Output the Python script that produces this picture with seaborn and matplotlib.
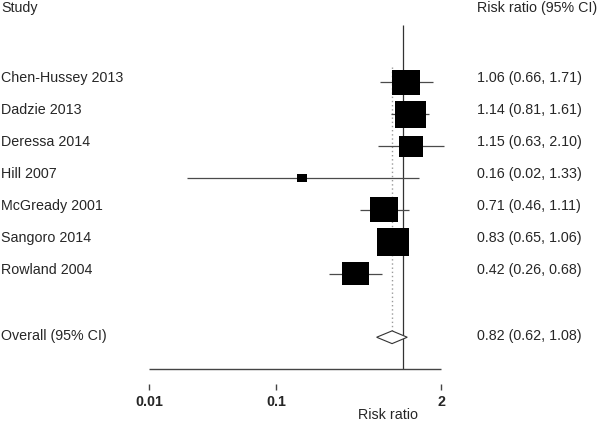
import numpy as np
import pandas as pd
import matplotlib
matplotlib.use('Agg')
import matplotlib.pyplot as plt
from matplotlib.path import Path
from matplotlib.patches import Polygon
import matplotlib.transforms as mtransforms
import seaborn as sns

### DATA ###
studies = ['Chen-Hussey 2013', 'Dadzie 2013', 'Deressa 2014', 'Hill 2007',
           'McGready 2001', 'Sangoro 2014', 'Rowland 2004']
rr = [1.06, 1.14, 1.15, 0.16, 0.71, 0.83, 0.42]
lo = [0.66, 0.81, 0.63, 0.02, 0.46, 0.65, 0.26]
hi = [1.71, 1.61, 2.10, 1.33, 1.11, 1.06, 0.68]
weights = [16.1, 18.9, 11.6, 1.9, 16.1, 20.9, 14.6]   # % weight (box area)

overall = (0.82, 0.62, 1.08)
tick_vals = [0.01, 0.1, 2]
tick_labels = ['0.01', '0.1', '2']

df = pd.DataFrame({'study': studies, 'rr': rr, 'lo': lo, 'hi': hi,
                   'weight': weights, 'row': np.arange(len(studies))})
overall_row = len(studies) + 1

sns.set_style('white')
plt.rcParams['font.family'] = ['Liberation Sans', 'DejaVu Sans']

fig = plt.figure(figsize=(6, 4.21), dpi=100)
ax = fig.add_axes([0, 0, 1, 1])
ax.set_xscale('log')
ax.set_xlim(10 ** -3.173, 10 ** 1.551)
ax.set_ylim(10.63, -2.59)
ax.axis('off')

ci_col = '#4a4a4a'
fs = 10.3

# confidence intervals
ax.hlines(df['row'], df['lo'], df['hi'], color=ci_col, lw=0.9, zorder=2)

# null line and pooled-estimate dotted line
ax.vlines(1, -1.81, 9.0, color='#333333', lw=0.9, zorder=1)
ax.vlines(overall[0], -0.5, overall_row, color='#9a9a9a', lw=1.0,
          linestyle=(0, (1, 2)), zorder=1)

# weighted boxes (slightly wider than tall, as in the source)
box = Path([(-1, -0.88), (1, -0.88), (1, 0.88), (-1, 0.88), (-1, -0.88)],
           [Path.MOVETO, Path.LINETO, Path.LINETO, Path.LINETO, Path.CLOSEPOLY])
k = 25.8
sns.scatterplot(data=df, x='rr', y='row', size='weight',
                sizes=(k * min(weights), k * max(weights)),
                marker=box, color='black', linewidth=0, legend=False,
                ax=ax, zorder=3)
ax.set_xlabel('')
ax.set_ylabel('')
ax.axis('off')

# overall diamond
h = 0.2
diamond = Polygon([(overall[1], overall_row), (overall[0], overall_row - h),
                   (overall[2], overall_row), (overall[0], overall_row + h)],
                  closed=True, facecolor='white', edgecolor='#333333',
                  lw=0.8, zorder=4)
ax.add_patch(diamond)

# x axis
ax.hlines(9.0, 0.01, 2.0, color='#444444', lw=1.0)
for tv, tl in zip(tick_vals, tick_labels):
    ax.vlines(tv, 9.47, 9.66, color='#444444', lw=1.0)
    ax.text(tv, 10.03, tl, ha='center', va='center', fontsize=fs,
            fontweight='bold')
ax.text(0.76, 10.44, 'Risk ratio', ha='center', va='center', fontsize=fs)

# text columns
trans = mtransforms.blended_transform_factory(ax.transAxes, ax.transData)
xl, xr = 1 / 600, 477 / 600
ax.text(xl, -2.21, 'Study', transform=trans, ha='left', va='baseline',
        fontsize=fs)
ax.text(xr, -2.21, 'Risk ratio (95% CI)', transform=trans, ha='left',
        va='baseline', fontsize=fs)
for _, r in df.iterrows():
    ax.text(xl, r['row'], r['study'], transform=trans, ha='left',
            va='baseline', fontsize=fs)
    ax.text(xr, r['row'], f"{r['rr']:.2f} ({r['lo']:.2f}, {r['hi']:.2f})",
            transform=trans, ha='left', va='baseline', fontsize=fs)
ax.text(xl, overall_row + 0.09, 'Overall (95% CI)', transform=trans,
        ha='left', va='baseline', fontsize=fs)
ax.text(xr, overall_row + 0.09,
        f"{overall[0]:.2f} ({overall[1]:.2f}, {overall[2]:.2f})",
        transform=trans, ha='left', va='baseline', fontsize=fs)

fig.savefig('out.png', dpi=100)
